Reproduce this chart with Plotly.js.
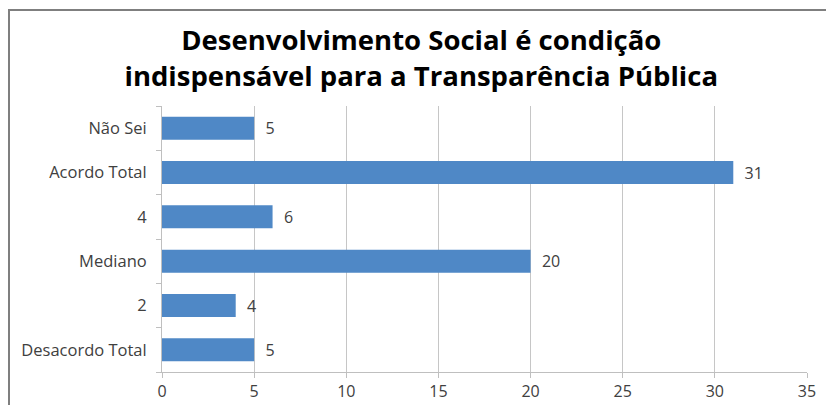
<!DOCTYPE html>
<html>
<head>
<meta charset="utf-8">
<script src="https://cdn.plot.ly/plotly-3.0.1.min.js"></script>
<style>
html,body{margin:0;padding:0;background:#fff;overflow:hidden;}
#wrap{position:relative;width:826px;height:405px;}
#chart{position:absolute;left:0;top:0;width:826px;height:405px;}
#frame{position:absolute;left:8px;top:9px;width:900px;height:500px;border:2px solid #7f7f7f;pointer-events:none;}
</style>
</head>
<body>
<div id="wrap"><div id="chart"></div><div id="frame"></div></div>
<script>
const categories = ["Desacordo Total", "2", "Mediano", "4", "Acordo Total", "Não Sei"];
const values = [5, 4, 20, 6, 31, 5];
const xTicks = [0, 5, 10, 15, 20, 25, 30, 35];
const titleText = "Desenvolvimento Social é condição<br>indispensável para a Transparência Pública";

const font = "Open Sans, Noto Sans, sans-serif";

Plotly.newPlot("chart", [{
  type: "bar",
  orientation: "h",
  y: categories,
  x: values,
  marker: {color: "#4f88c6"},
  text: values.map(v => String(v)),
  texttemplate: "  %{x}",
  textposition: "outside",
  cliponaxis: false,
  textfont: {family: font, size: 16, color: "#404040"},
  hoverinfo: "none"
}], {
  width: 826, height: 405,
  margin: {l: 162, r: 19, t: 106, b: 33, pad: 0},
  paper_bgcolor: "#ffffff",
  plot_bgcolor: "#ffffff",
  bargap: 0.48,
  showlegend: false,
  title: {
    text: titleText,
    font: {family: font, size: 27.5, color: "#000000", weight: "bold"},
    x: 0.51, xanchor: "center",
    y: 0.877, yref: "container", yanchor: "middle"
  },
  xaxis: {
    range: [0, 35],
    tickvals: xTicks,
    ticktext: xTicks.map(String),
    showgrid: true, gridcolor: "#c6c6c6", gridwidth: 1,
    showline: true, linecolor: "#bfbfbf", linewidth: 1,
    ticks: "outside", ticklen: 5, tickcolor: "#bfbfbf",
    tickfont: {family: font, size: 16, color: "#404040"},
    zeroline: false, fixedrange: true
  },
  yaxis: {
    type: "category",
    categoryorder: "array", categoryarray: categories,
    showline: true, linecolor: "#bfbfbf", linewidth: 1,
    ticks: "outside", ticklen: 5, tickcolor: "#bfbfbf",
    tickson: "boundaries",
    ticklabelstandoff: 11,
    tickfont: {family: font, size: 16.5, color: "#404040"},
    showgrid: false, zeroline: false, fixedrange: true
  }
}, {staticPlot: true, displayModeBar: false});
</script>
</body>
</html>
